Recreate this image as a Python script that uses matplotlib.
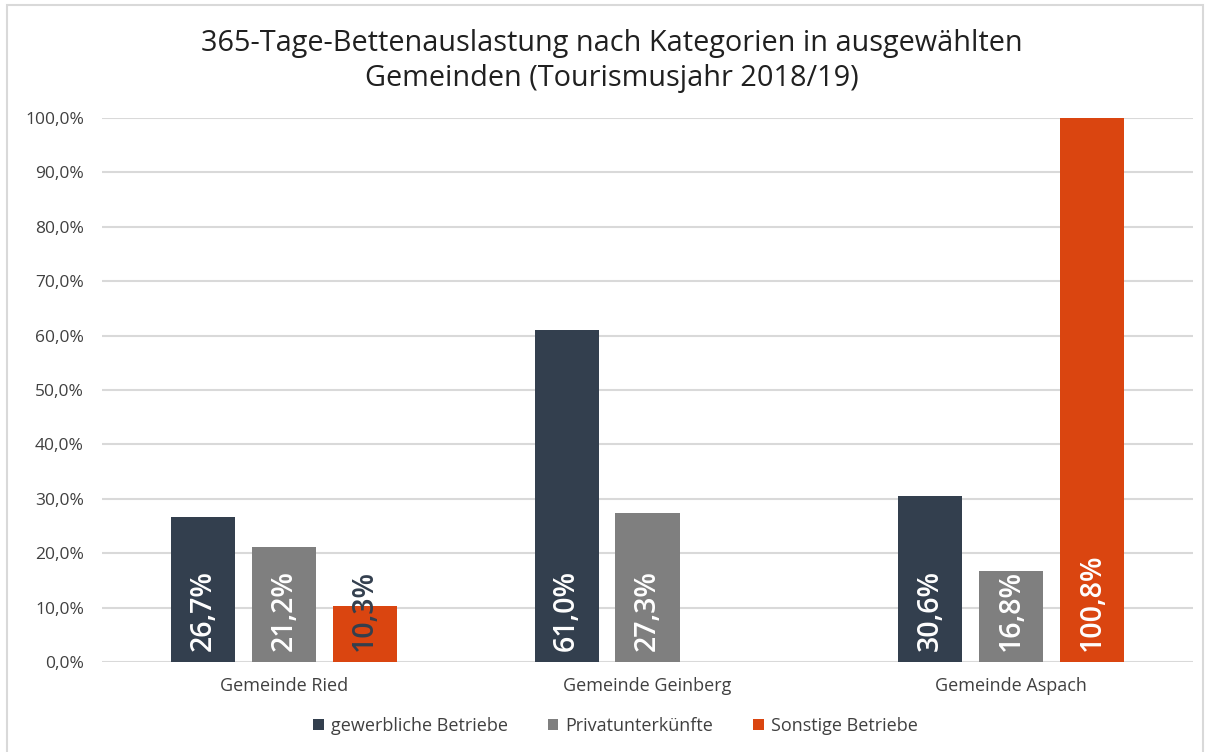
import matplotlib
matplotlib.use("Agg")
import matplotlib.pyplot as plt
from matplotlib.patches import Rectangle
import numpy as np

plt.rcParams['font.family'] = ['Open Sans', 'DejaVu Sans']

categories = ["Gemeinde Ried", "Gemeinde Geinberg", "Gemeinde Aspach"]
series_names = ["gewerbliche Betriebe", "Privatunterkünfte", "Sonstige Betriebe"]
gewerbliche = [26.7, 61.0, 30.6]
privat = [21.2, 27.3, 16.8]
sonstige = [10.3, None, 100.8]
colors = ["#333F4E", "#7F7F7F", "#DA4510"]
yticks = [0, 10, 20, 30, 40, 50, 60, 70, 80, 90, 100]

W, H = 1209, 752
fig = plt.figure(figsize=(W / 100, H / 100), dpi=100)
ax = fig.add_axes([102 / W, 1 - 662 / H, (1193 - 102) / W, (662 - 118) / H])

# figure border
fig.patches.append(Rectangle((7 / W, -0.05), (1203 - 7) / W, 1.05 - 5 / H,
                             transform=fig.transFigure, fill=False,
                             edgecolor="#D9D9D9", linewidth=1.5))

x = np.arange(len(categories))
width = 0.176
step = 0.2225
series = [gewerbliche, privat, sonstige]
for i, (vals, name, col) in enumerate(zip(series, series_names, colors)):
    xs = []
    hs = []
    for xi, v in zip(x, vals):
        if v is not None:
            xs.append(xi + (i - 1) * step)
            hs.append(v)
    ax.bar(xs, hs, width=width, color=col, label=name, zorder=3)
    for xx, v in zip(xs, hs):
        lbl = f"{v:.1f}%".replace(".", ",")
        tcol = "white"
        if v < 14:
            tcol = "#333F4E"
        ax.annotate(lbl, xy=(xx, 0), xytext=(0, 8), textcoords="offset points",
                    rotation=90, ha="center", va="bottom", fontsize=20.5,
                    fontweight="semibold", color=tcol, zorder=4)

ax.set_xlim(-0.5, 2.5)
ax.set_ylim(0, 100)
ax.set_yticks(yticks)
ax.set_yticklabels([f"{t:.1f}%".replace(".", ",") for t in yticks],
                   fontsize=12.5, color="#404040")
ax.set_xticks(x)
ax.set_xticklabels(categories, fontsize=13, color="#404040")
ax.tick_params(length=0)
ax.tick_params(axis="x", pad=11)
ax.tick_params(axis="y", pad=13)
ax.grid(axis="y", color="#D9D9D9", linewidth=1.5, zorder=0)
ax.set_axisbelow(True)
for s in ax.spines.values():
    s.set_visible(False)

fig.text(612 / W, 1 - 61 / H,
         "365-Tage-Bettenauslastung nach Kategorien in ausgewählten\nGemeinden (Tourismusjahr 2018/19)",
         ha="center", va="center", fontsize=20.8, color="#202020", linespacing=1.3)

leg = fig.legend(loc="center", bbox_to_anchor=(0.5 * (319 + 912) / W, 1 - 726 / H),
                 ncol=3, frameon=False, fontsize=13, handlelength=0.6, handleheight=0.6,
                 handletextpad=0.4, columnspacing=2.2)
for t in leg.get_texts():
    t.set_color("#404040")

fig.savefig("out.png", dpi=100)
